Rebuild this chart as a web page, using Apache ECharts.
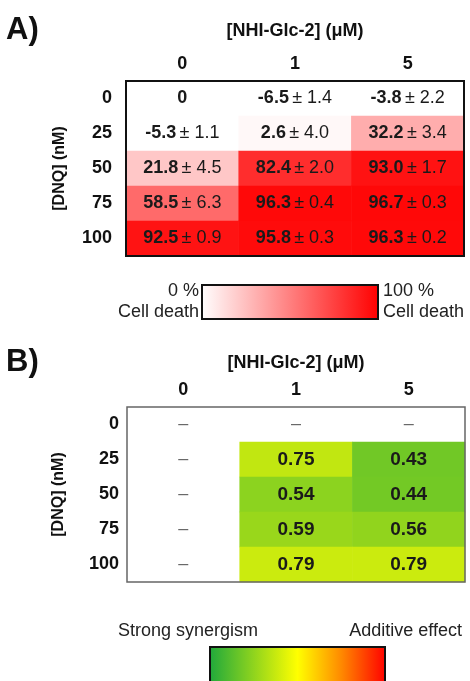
<!DOCTYPE html>
<html>
<head>
<meta charset="utf-8">
<script src="https://cdn.jsdelivr.net/npm/echarts@6/dist/echarts.min.js"></script>
<style>
  html, body { margin: 0; padding: 0; background: #fff; }
  #chart { width: 470px; height: 681px; }
</style>
</head>
<body>
<div id="chart"></div>
<script>
// shared axes
const nhiDoses = ['0', '1', '5'];          // [NHI-Glc-2] (uM), columns
const dnqDoses = ['0', '25', '50', '75', '100']; // [DNQ] (nM), rows

// A) % cell death, mean and sd (rows = DNQ, cols = NHI-Glc-2)
const deathMean = [
  [0, -6.5, -3.8],
  [-5.3, 2.6, 32.2],
  [21.8, 82.4, 93.0],
  [58.5, 96.3, 96.7],
  [92.5, 95.8, 96.3]
];
const deathSd = [
  [null, 1.4, 2.2],
  [1.1, 4.0, 3.4],
  [4.5, 2.0, 1.7],
  [6.3, 0.4, 0.3],
  [0.9, 0.3, 0.2]
];

// B) combination index, null = not determined (–)
const combIndex = [
  [null, null, null],
  [null, 0.75, 0.43],
  [null, 0.54, 0.44],
  [null, 0.59, 0.56],
  [null, 0.79, 0.79]
];

const deathColors = ['#ffffff', '#ff0000'];
const ciColors = ['#1ea83c', '#ffff00', '#ff0000'];

const FONT = "'Liberation Sans', Arial, sans-serif";

const deathData = [];
const ciData = [];
const dashData = [];
dnqDoses.forEach((r, i) => {
  nhiDoses.forEach((c, j) => {
    deathData.push([j, i, deathMean[i][j], deathSd[i][j]]);
    if (combIndex[i][j] == null) dashData.push([j, i]);
    else ciData.push([j, i, combIndex[i][j]]);
  });
});

function topAxis(gridIndex, gap) {
  return {
    type: 'category', gridIndex: gridIndex, position: 'top', data: nhiDoses,
    name: '[NHI-Glc-2] (μM)', nameLocation: 'middle', nameGap: gap,
    nameTextStyle: { fontFamily: FONT, fontSize: 18, fontWeight: 'bold', color: '#111' },
    axisLine: { show: false }, axisTick: { show: false }, splitLine: { show: false },
    axisLabel: { fontFamily: FONT, fontSize: 18, fontWeight: 'bold', color: '#111', margin: 8 }
  };
}
function leftAxis(gridIndex, margin, gap) {
  return {
    type: 'category', gridIndex: gridIndex, inverse: true, data: dnqDoses,
    name: '[DNQ] (nM)', nameLocation: 'middle', nameGap: gap, nameRotate: 90,
    nameTextStyle: { fontFamily: FONT, fontSize: 16, fontWeight: 'bold', color: '#111' },
    axisLine: { show: false }, axisTick: { show: false }, splitLine: { show: false },
    axisLabel: { fontFamily: FONT, fontSize: 18, fontWeight: 'bold', color: '#111', margin: margin }
  };
}

const chart = echarts.init(document.getElementById('chart'));
const option = {
  animation: false,
  backgroundColor: '#fff',
  grid: [
    { left: 126, right: 6, top: 81, height: 175, show: true, z: 5,
      backgroundColor: 'transparent', borderColor: '#111', borderWidth: 2 },
    { left: 127, right: 5, top: 407, height: 175, show: true, z: 5,
      backgroundColor: 'transparent', borderColor: '#666', borderWidth: 1.5 }
  ],
  xAxis: [topAxis(0, 41), topAxis(1, 35)],
  yAxis: [leftAxis(0, 14, 58), leftAxis(1, 8, 60)],
  visualMap: [
    { type: 'continuous', show: false, seriesIndex: 0, dimension: 2, min: 0, max: 100,
      inRange: { color: deathColors }, outOfRange: { color: '#ffffff' } },
    { type: 'continuous', show: false, seriesIndex: 1, dimension: 2, min: 0.1, max: 1.9,
      inRange: { color: ciColors } }
  ],
  series: [
    {
      type: 'heatmap', xAxisIndex: 0, yAxisIndex: 0, data: deathData,
      emphasis: { disabled: true },
      label: {
        show: true,
        formatter: p => {
          const m = p.data[2], s = p.data[3];
          if (s == null) return '{b|' + m + '}';
          return '{b|' + m.toFixed(1) + '} {n|± ' + s.toFixed(1) + '}';
        },
        rich: {
          b: { fontFamily: FONT, fontSize: 18, fontWeight: 'bold', color: '#1a1a1a' },
          n: { fontFamily: FONT, fontSize: 18, color: '#1a1a1a' }
        }
      }
    },
    {
      type: 'heatmap', xAxisIndex: 1, yAxisIndex: 1, data: ciData,
      emphasis: { disabled: true },
      label: {
        show: true, formatter: p => p.data[2].toFixed(2),
        fontFamily: FONT, fontSize: 19, fontWeight: 'bold', color: '#1a1a1a'
      }
    },
    {
      type: 'scatter', xAxisIndex: 1, yAxisIndex: 1, data: dashData,
      symbolSize: 1, itemStyle: { color: 'rgba(0,0,0,0)' }, silent: true,
      label: {
        show: true, position: 'inside', formatter: '–',
        fontFamily: FONT, fontSize: 18, color: '#444'
      }
    }
  ],
  graphic: [
    { type: 'text', left: 6, top: 15, style: { text: 'A)', font: 'bold 31px ' + FONT, fill: '#111' } },
    { type: 'text', left: 6, top: 347, style: { text: 'B)', font: 'bold 31px ' + FONT, fill: '#111' } },
    // colour key A
    { type: 'rect', shape: { x: 202, y: 285, width: 176, height: 34 }, z: 10,
      style: { stroke: '#111', lineWidth: 2,
        fill: new echarts.graphic.LinearGradient(0, 0, 1, 0, [
          { offset: 0, color: deathColors[0] }, { offset: 1, color: deathColors[1] }]) } },
    { type: 'text', x: 199, y: 281, z: 10,
      style: { text: '0 %\nCell death', font: '18px ' + FONT, fill: '#222', align: 'right', lineHeight: 21 } },
    { type: 'text', x: 383, y: 281, z: 10,
      style: { text: '100 %\nCell death', font: '18px ' + FONT, fill: '#222', align: 'left', lineHeight: 21 } },
    // colour key B
    { type: 'text', x: 118, y: 622, z: 10,
      style: { text: 'Strong synergism', font: '18px ' + FONT, fill: '#222' } },
    { type: 'text', x: 462, y: 622, z: 10,
      style: { text: 'Additive effect', font: '18px ' + FONT, fill: '#222', align: 'right' } },
    { type: 'rect', shape: { x: 210, y: 647, width: 175, height: 40 }, z: 10,
      style: { stroke: '#111', lineWidth: 2,
        fill: new echarts.graphic.LinearGradient(0, 0, 1, 0, [
          { offset: 0, color: ciColors[0] }, { offset: 0.5, color: ciColors[1] },
          { offset: 0.75, color: '#ff8800' }, { offset: 1, color: ciColors[2] }]) } }
  ]
};
chart.setOption(option);
</script>
</body>
</html>
